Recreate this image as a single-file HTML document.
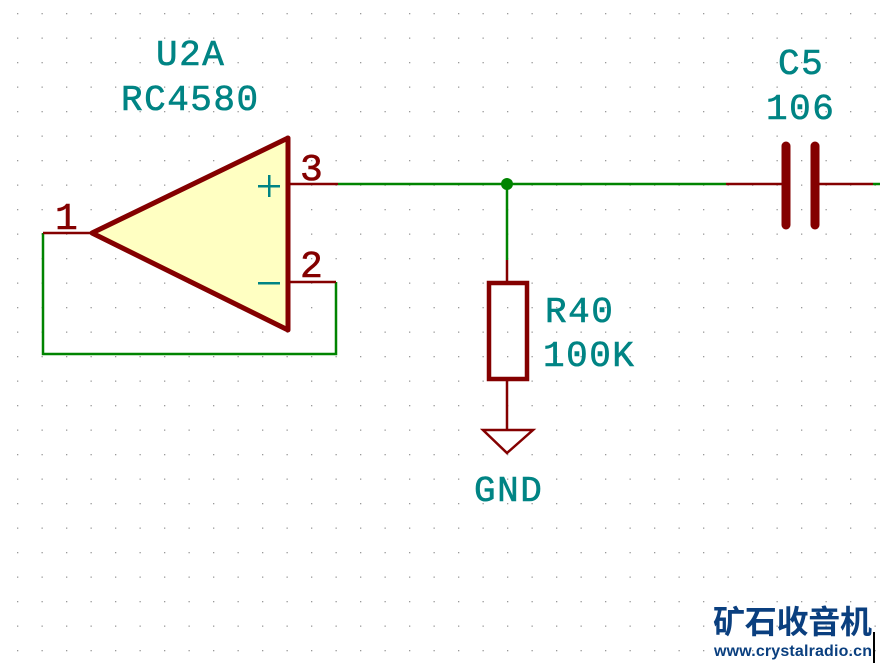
<!DOCTYPE html>
<html><head><meta charset="utf-8"><style>
html,body{margin:0;padding:0;background:#fff;width:880px;height:663px;overflow:hidden}
</style></head><body>
<svg width="880" height="663" viewBox="0 0 880 663" xmlns="http://www.w3.org/2000/svg">
<defs><pattern id="g" x="17" y="13" width="24.5" height="24.5" patternUnits="userSpaceOnUse"><rect x="0" y="0" width="1.3" height="1.3" fill="#999"/></pattern></defs>
<rect width="880" height="663" fill="url(#g)"/>
<g fill="none" stroke="#008400" stroke-width="2.5">
<path d="M338 184H726"/>
<path d="M507 184V260"/>
<path d="M336 282V354H43V233"/>
<path d="M873 184H880"/>
</g>
<circle cx="507" cy="184" r="6" fill="#008400"/>
<polygon points="92,233 288,138 288,330" fill="#ffffc2" stroke="#840000" stroke-width="5" stroke-linejoin="round"/>
<g stroke="#840000" stroke-width="2.5" fill="none">
<path d="M289 184H338"/><path d="M289 282H336"/><path d="M43 233H92"/>
<path d="M507 260V282"/><path d="M507 380V430"/>
<path d="M483 430H533L507 453Z"/>
<path d="M726 184H786"/><path d="M815 184H873"/>
</g>
<rect x="489" y="283" width="38" height="96" fill="none" stroke="#840000" stroke-width="4.5"/>
<line x1="786" y1="146" x2="786" y2="225" stroke="#840000" stroke-width="9" stroke-linecap="round"/>
<line x1="815" y1="146" x2="815" y2="225" stroke="#840000" stroke-width="9" stroke-linecap="round"/>
<g fill="#008484" stroke="none">
<rect x="258" y="185" width="22" height="2.5"/><rect x="268" y="175" width="2.5" height="22"/>
<rect x="258" y="282" width="22" height="2.5"/>
</g>
<g font-family="Liberation Mono, monospace" font-size="36" fill="#008484" stroke="#008484" stroke-width="0.6" letter-spacing="1.5">
<text x="156" y="65">U2A</text>
<text x="121" y="110">RC4580</text>
<text x="545" y="322">R40</text>
<text x="543" y="366">100K</text>
<text x="474" y="501">GND</text>
<text x="778" y="74">C5</text>
<text x="766" y="119">106</text>
</g>
<g font-family="Liberation Mono, monospace" font-size="38" fill="#840000" stroke="#840000" stroke-width="0.6">
<text x="300" y="180">3</text>
<text x="300" y="277">2</text>
<text x="55" y="229">1</text>
</g>
<text x="713" y="633" font-family="Liberation Sans, 'Noto Sans CJK SC', sans-serif" font-size="32" font-weight="bold" fill="#0a3f7f" textLength="159">矿石收音机</text>
<text x="714" y="656" font-family="Liberation Sans, sans-serif" font-size="16" font-weight="bold" fill="#0a3f7f" textLength="158">www.crystalradio.cn</text>
<rect x="873" y="632" width="2" height="31" fill="#000"/>
</svg>
</body></html>
